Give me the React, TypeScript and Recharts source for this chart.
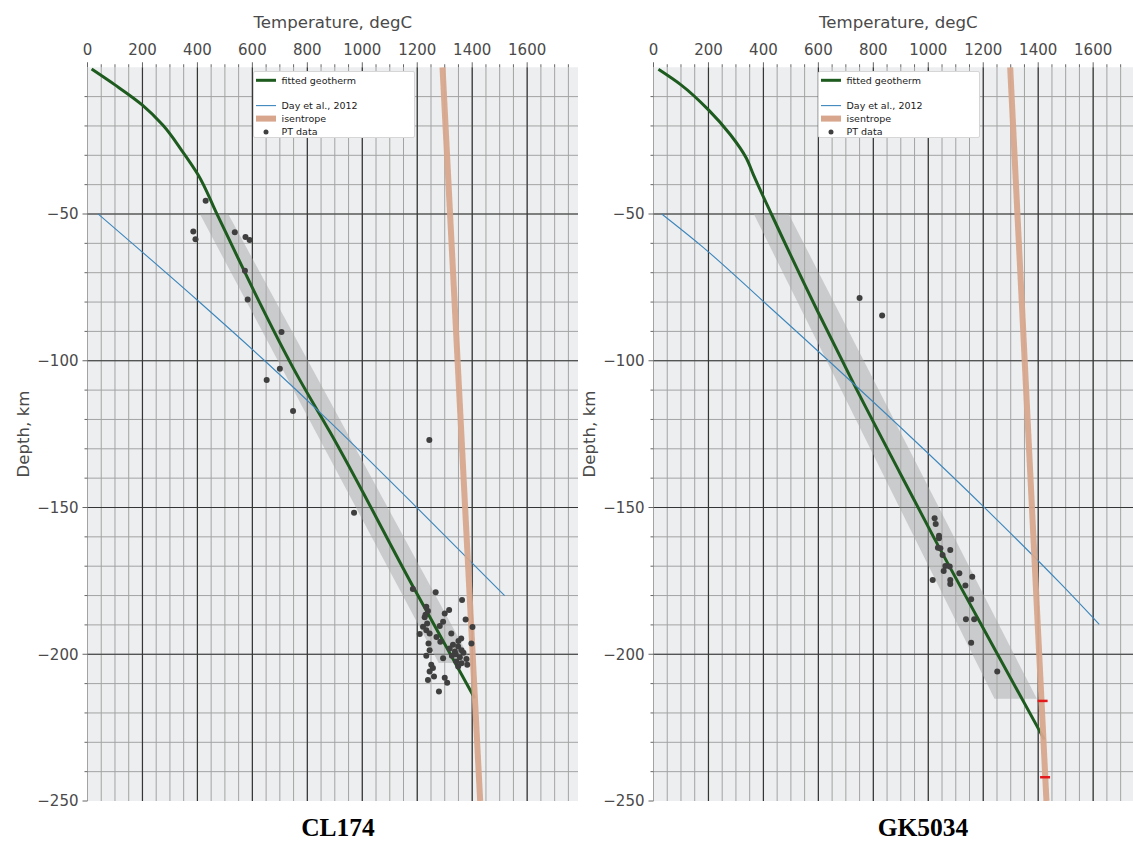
import React from 'react';
import { ComposedChart, XAxis, YAxis, CartesianGrid, Line, Area, Scatter } from 'recharts';

// ---------- axis ticks ----------
const T_LABELS = [0, 200, 400, 600, 800, 1000, 1200, 1400, 1600];
const T_MINOR = [0, 50, 100, 150, 200, 250, 300, 350, 400, 450, 500, 550, 600, 650, 700, 750, 800, 850, 900, 950, 1000, 1050, 1100, 1150, 1200, 1250, 1300, 1350, 1400, 1450, 1500, 1550, 1600, 1650, 1700, 1750];
const T_GRID_MAJOR = [200, 400, 600, 800, 1000, 1200, 1400, 1600];
const D_LABELS = [-250, -200, -150, -100, -50];
const D_TICKS = [-250, -240, -230, -220, -210, -200, -190, -180, -170, -160, -150, -140, -130, -120, -110, -100, -90, -80, -70, -60, -50, -40, -30, -20, -10];
const D_GRID_MINOR = [-240, -230, -220, -210, -200, -190, -180, -170, -160, -150, -140, -130, -120, -110, -100, -90, -80, -70, -60, -50, -40, -30, -20, -10];
const D_GRID_MAJOR = [-200, -150, -100, -50];
const T_DOMAIN = [0, 1785];
const D_DOMAIN = [-250, 0];

const LEGEND_LABELS = ['fitted geotherm', 'Day et al., 2012', 'isentrope', 'PT data'];
const PANEL_NAMES = ['CL174', 'GK5034'];
const X_TITLE = 'Temperature, degC';
const Y_TITLE = 'Depth, km';

// ---------- CL174 ----------
const geothermL = [
  { t: 15, d: -0.6 }, { t: 100, d: -6 }, { t: 200, d: -12.9 }, { t: 274, d: -19.7 },
  { t: 342, d: -28.2 }, { t: 403, d: -36.7 }, { t: 470, d: -49.8 }, { t: 773, d: -106.6 },
  { t: 882, d: -124.2 }, { t: 1185, d: -177 }, { t: 1409, d: -215 },
];
const dayL = [
  { t: 39, d: -50 }, { t: 399, d: -79.3 }, { t: 645, d: -100 }, { t: 882, d: -120.8 },
  { t: 1193, d: -149.5 }, { t: 1518, d: -180 },
];
const isentropeL = [{ t: 1292, d: 0 }, { t: 1429, d: -250 }];
const bandL = [{ d: -50, r: [409, 512] }, { d: -203, r: [1278, 1400] }];
const ptL = [
  { t: 430, d: -45.5 }, { t: 385, d: -56.0 }, { t: 393, d: -58.6 }, { t: 536, d: -56.2 },
  { t: 575, d: -57.8 }, { t: 590, d: -58.9 }, { t: 573, d: -69.3 }, { t: 583, d: -79.1 },
  { t: 706, d: -90.2 }, { t: 700, d: -102.7 }, { t: 652, d: -106.6 }, { t: 748, d: -117.1 },
  { t: 1244, d: -127.0 }, { t: 970, d: -151.8 }, { t: 1184, d: -177.8 }, { t: 1267, d: -178.9 },
  { t: 1363, d: -181.5 }, { t: 1316, d: -184.9 }, { t: 1233, d: -183.8 }, { t: 1239, d: -185.3 },
  { t: 1227, d: -187.4 }, { t: 1300, d: -186.1 }, { t: 1376, d: -188.2 }, { t: 1294, d: -188.9 },
  { t: 1282, d: -190.4 }, { t: 1401, d: -190.7 }, { t: 1221, d: -190.6 }, { t: 1233, d: -191.8 },
  { t: 1209, d: -193.1 }, { t: 1245, d: -192.9 }, { t: 1270, d: -194.1 }, { t: 1324, d: -192.9 },
  { t: 1284, d: -195.7 }, { t: 1241, d: -196.3 }, { t: 1397, d: -196.3 }, { t: 1330, d: -196.8 },
  { t: 1349, d: -197.4 }, { t: 1318, d: -198.0 }, { t: 1245, d: -198.6 }, { t: 1361, d: -198.6 },
  { t: 1337, d: -199.1 }, { t: 1233, d: -200.5 }, { t: 1294, d: -201.4 }, { t: 1379, d: -201.6 },
  { t: 1342, d: -202.5 }, { t: 1361, d: -203.1 }, { t: 1251, d: -203.6 }, { t: 1382, d: -203.6 },
  { t: 1349, d: -204.2 }, { t: 1257, d: -204.7 }, { t: 1245, d: -205.9 }, { t: 1261, d: -207.6 },
  { t: 1239, d: -208.8 }, { t: 1300, d: -208.0 }, { t: 1309, d: -209.7 }, { t: 1279, d: -212.7 },
  { t: 1340, d: -200.0 }, { t: 1355, d: -201.0 }, { t: 1368, d: -199.5 }, { t: 1326, d: -200.5 },
  { t: 1350, d: -195.5 }, { t: 1360, d: -194.6 }, { t: 1230, d: -186.5 }, { t: 1236, d: -189.5 },
];

// ---------- GK5034 ----------
const geothermR = [
  { t: 18, d: -0.7 }, { t: 100, d: -6 }, { t: 201, d: -14.6 }, { t: 280, d: -23 },
  { t: 338, d: -31 }, { t: 363, d: -36.5 }, { t: 429, d: -50 },
  { t: 595, d: -82.7 }, { t: 728, d: -107.7 }, { t: 898, d: -138.4 }, { t: 1019, d: -160 },
  { t: 1177, d: -187.2 }, { t: 1422, d: -229 },
];
const dayR = [
  { t: 30, d: -50 }, { t: 171, d: -60.6 }, { t: 401, d: -79.9 }, { t: 1201, d: -149.7 },
  { t: 1480, d: -175.8 }, { t: 1622, d: -189.8 },
];
const isentropeR = [{ t: 1298, d: 0 }, { t: 1430, d: -250 }];
const bandR = [{ d: -50, r: [365, 492] }, { d: -215.2, r: [1241, 1395] }];
const ptR = [
  { t: 750, d: -78.6 }, { t: 832, d: -84.6 }, { t: 1023, d: -153.7 }, { t: 1027, d: -155.6 },
  { t: 1039, d: -159.6 }, { t: 1039, d: -160.5 }, { t: 1035, d: -163.7 }, { t: 1044, d: -163.9 },
  { t: 1080, d: -164.5 }, { t: 1052, d: -166.2 }, { t: 1062, d: -169.9 }, { t: 1056, d: -171.6 },
  { t: 1078, d: -170.1 }, { t: 1113, d: -172.4 }, { t: 1016, d: -174.7 }, { t: 1080, d: -174.7 },
  { t: 1080, d: -176.1 }, { t: 1160, d: -173.6 }, { t: 1135, d: -176.6 }, { t: 1156, d: -181.3 },
  { t: 1137, d: -188.1 }, { t: 1167, d: -188.1 }, { t: 1156, d: -196.1 }, { t: 1251, d: -205.9 },
];
const redR = [{ t: 1416, d: -215.9 }, { t: 1425, d: -241.9 }];

// ---------- style ----------
const GREEN = '#1e5b1f';
const BLUE = '#3d86bb';
const TAN = '#d7a68c';
const DOT = '#3f3f3f';
const TXT = '#4a4a4a';
const FONT = '"DejaVu Sans", sans-serif';

const TopTick = (props: any) => {
  const { x, y, payload } = props;
  const v = payload.value;
  const major = T_LABELS.includes(v);
  const base = y + 12;
  return (
    <g>
      <line x1={x} x2={x} y1={base - (major ? 5 : 3)} y2={base} stroke="#666" strokeWidth={1} />
      {major && (
        <text x={x} y={y} textAnchor="middle" fontSize={15} fontFamily={FONT} fill={TXT}>
          {v}
        </text>
      )}
    </g>
  );
};

const LeftTick = (props: any) => {
  const { x, y, payload } = props;
  const v = payload.value;
  const major = D_LABELS.includes(v);
  const edge = x + 9;
  return (
    <g>
      <line x1={edge - (major ? 5 : 3)} x2={edge} y1={y} y2={y} stroke="#666" strokeWidth={1} />
      {major && (
        <text x={x} y={y} dy="0.36em" textAnchor="end" fontSize={15} fontFamily={FONT} fill={TXT}>
          {'\u2212' + Math.abs(v)}
        </text>
      )}
    </g>
  );
};

const dotShape = (p: any) => <circle cx={p.cx} cy={p.cy} r={3} fill={DOT} />;
const redShape = (p: any) => (
  <line x1={p.cx - 5} x2={p.cx + 5} y1={p.cy} y2={p.cy} stroke="#e3191c" strokeWidth={2.5} />
);

function Panel(props: any) {
  const { left, geo, day, isen, band, pts, red } = props;
  return (
    <div style={{ position: 'absolute', left, top: 0 }}>
      <ComposedChart
        layout="vertical"
        width={600}
        height={842}
        margin={{ top: 37.25, right: 22, bottom: 41, left: 27.5 }}
      >
        <CartesianGrid
          verticalValues={T_MINOR}
          horizontalValues={D_GRID_MINOR}
          stroke="#a3a3a3"
          strokeWidth={1}
          fill="#eceef0"
        />
        <CartesianGrid
          verticalValues={T_GRID_MAJOR}
          horizontalValues={D_GRID_MAJOR}
          stroke="#353535"
          strokeWidth={1.2}
        />
        <XAxis
          type="number"
          dataKey="t"
          orientation="top"
          domain={T_DOMAIN}
          ticks={T_MINOR}
          interval={0}
          allowDataOverflow
          height={30}
          axisLine={false}
          tickLine={false}
          tickSize={0}
          tickMargin={12}
          tick={TopTick}
        />
        <YAxis
          type="number"
          dataKey="d"
          domain={D_DOMAIN}
          reversed
          ticks={D_TICKS}
          interval={0}
          allowDataOverflow
          width={60}
          axisLine={false}
          tickLine={false}
          tickSize={0}
          tickMargin={9}
          tick={LeftTick}
        />
        <Area
          data={band}
          dataKey="r"
          type="linear"
          stroke="none"
          fill="#a8a8a8"
          fillOpacity={0.5}
          isAnimationActive={false}
        />
        <Line data={geo} dataKey="t" type="monotone" stroke={GREEN} strokeWidth={3} dot={false} isAnimationActive={false} />
        <Line data={day} dataKey="t" type="monotone" stroke={BLUE} strokeWidth={1.1} dot={false} isAnimationActive={false} />
        <Line data={isen} dataKey="t" type="linear" stroke={TAN} strokeWidth={6} strokeOpacity={0.95} dot={false} isAnimationActive={false} />
        <Scatter data={pts} dataKey="t" shape={dotShape} isAnimationActive={false} />
        {red && <Scatter data={red} dataKey="t" shape={redShape} isAnimationActive={false} />}
      </ComposedChart>
    </div>
  );
}

function LegendBox({ left }: { left: number }) {
  const ys = [8.3, 33.6, 46.6, 60];
  return (
    <div
      style={{
        position: 'absolute',
        left,
        top: 71,
        width: 162,
        height: 67,
        background: '#ffffff',
        border: '1px solid #d6d6d6',
        borderRadius: 2,
        boxSizing: 'border-box',
      }}
    >
      <svg width={160} height={65} style={{ position: 'absolute', left: 0, top: 0 }}>
        <line x1={2} x2={22} y1={ys[0]} y2={ys[0]} stroke={GREEN} strokeWidth={3} />
        <line x1={2} x2={22} y1={ys[1]} y2={ys[1]} stroke={BLUE} strokeWidth={1.1} />
        <line x1={2} x2={22} y1={ys[2]} y2={ys[2]} stroke={TAN} strokeWidth={6} />
        <circle cx={12} cy={ys[3]} r={2.5} fill={DOT} />
        {LEGEND_LABELS.map((l, i) => (
          <text key={l} x={27.5} y={ys[i]} dy="0.35em" fontSize={9.5} fontFamily={FONT} fill="#1a1a1a">
            {l}
          </text>
        ))}
      </svg>
    </div>
  );
}

export default function App() {
  return (
    <div
      style={{
        position: 'absolute',
        left: 0,
        top: 0,
        width: 1133,
        height: 842,
        overflow: 'hidden',
        background: '#ffffff',
      }}
    >
      <Panel left={0} geo={geothermL} day={dayL} isen={isentropeL} band={bandL} pts={ptL} red={null} />
      <Panel left={565.5} geo={geothermR} day={dayR} isen={isentropeR} band={bandR} pts={ptR} red={redR} />
      <LegendBox left={252.7} />
      <LegendBox left={818.3} />
      <svg
        width={1133}
        height={842}
        style={{ position: 'absolute', left: 0, top: 0, pointerEvents: 'none' }}
      >
        <text x={332.75} y={28} textAnchor="middle" fontSize={16.6} fontFamily={FONT} fill={TXT}>{X_TITLE}</text>
        <text x={898.25} y={28} textAnchor="middle" fontSize={16.6} fontFamily={FONT} fill={TXT}>{X_TITLE}</text>
        <text x={0} y={0} transform="translate(29,434) rotate(-90)" textAnchor="middle" fontSize={16.6} fontFamily={FONT} fill={TXT}>{Y_TITLE}</text>
        <text x={0} y={0} transform="translate(594.5,434) rotate(-90)" textAnchor="middle" fontSize={16.6} fontFamily={FONT} fill={TXT}>{Y_TITLE}</text>
        <text x={338} y={836} textAnchor="middle" fontSize={25.5} fontWeight="bold" fontFamily='"Liberation Serif", serif' fill="#000">{PANEL_NAMES[0]}</text>
        <text x={923} y={836} textAnchor="middle" fontSize={25.5} fontWeight="bold" fontFamily='"Liberation Serif", serif' fill="#000">{PANEL_NAMES[1]}</text>
      </svg>
    </div>
  );
}
